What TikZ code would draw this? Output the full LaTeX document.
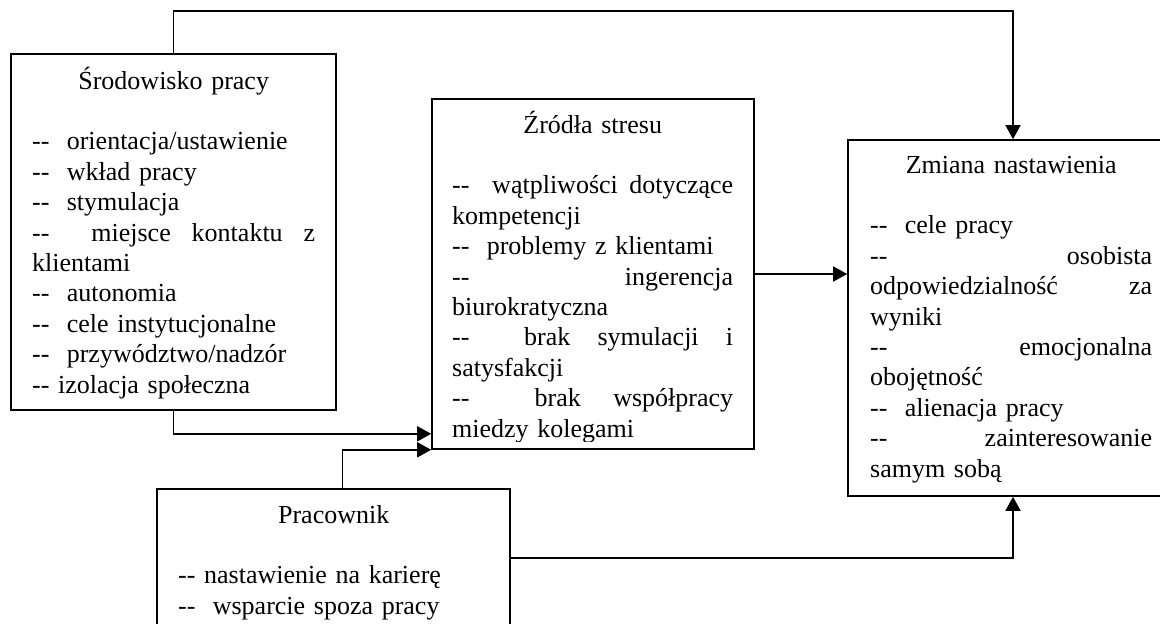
\documentclass[tikz,border=0pt]{standalone}
\usepackage{fontspec}
\setmainfont{Liberation Serif}
\usetikzlibrary{arrows.meta,calc}

% a line stretched to the full text width (justified line)
\newcommand{\jl}[1]{{\spaceskip=0.25em plus 1em\xspaceskip=0.25em plus 1em%
  \makebox[\linewidth][s]{#1}}}
% a centred heading line
\newcommand{\hd}[1]{\makebox[\linewidth]{#1}}
% two plain hyphens, kept apart from the en-dash ligature
\newcommand{\dd}{-{}-}

\begin{document}
\begin{tikzpicture}[x=1pt,y=-1pt,
  box/.style={draw,line width=1.6pt,rectangle,inner sep=0pt},
  txt/.style={anchor=base west,inner sep=0pt,align=left,
    font=\fontsize{26pt}{30.4pt}\selectfont},
  arr/.style={line width=1.6pt,-{Triangle[length=14pt,width=15pt]}},
  line/.style={line width=1.6pt}]
\useasboundingbox (0,0) rectangle (1160,624);
\clip (0,0) rectangle (1160,624);

% boxes
\node[box,minimum width=325pt,minimum height=356pt] (A) at (173.5,232) {};
\node[box,minimum width=322pt,minimum height=350pt] (B) at (593,274) {};
\node[box,minimum width=330pt,minimum height=356pt] (Z) at (1013,318) {};
\node[box,minimum width=353pt,minimum height=138pt] (P) at (333.5,558) {};

% texts
\node[txt,text width=283pt] (At) at (32,89) {%
\hd{Środowisko pracy}\\[30.4pt]
\dd\ \ orientacja/ustawienie\\
\dd\ \ wkład pracy\\
\dd\ \ stymulacja\\
\jl{\dd\ \ miejsce kontaktu z}\\
klientami\\
\dd\ \ autonomia\\
\dd\ \ cele instytucjonalne\\
\dd\ \ przywództwo/nadzór\\
\dd\ izolacja społeczna};

\begin{scope}
\clip (432,99) rectangle (754,441);
\node[txt,text width=281pt] (Bt) at (452,133) {%
\hd{Źródła stresu}\\[30.4pt]
\jl{\dd\ \ wątpliwości dotyczące}\\
kompetencji\\
\dd\ \ problemy z klientami\\
\jl{\dd\ \ ingerencja}\\
biurokratyczna\\
\jl{\dd\ \ brak symulacji i}\\
satysfakcji\\
\jl{\dd\ \ brak współpracy}\\
miedzy kolegami};
\end{scope}

\node[txt,text width=282pt] (Zt) at (870,173) {%
\hd{Zmiana nastawienia}\\[30.4pt]
\dd\ \ cele pracy\\
\jl{\dd\ \ osobista}\\
\jl{odpowiedzialność za}\\
wyniki\\
\jl{\dd\ \ emocjonalna}\\
obojętność\\
\dd\ \ alienacja pracy\\
\jl{\dd\ \ zainteresowanie}\\
samym sobą};

\node[txt,text width=311pt] (Pt) at (178,523) {%
\hd{Pracownik}\\[30.4pt]
\dd\ nastawienie na karierę\\
\dd\ \ wsparcie spoza pracy};

% connectors
\coordinate (top) at (600,11);
\draw[arr] (A.north) |- (top) -| (Z.north);
\draw[arr] (A.south) |- ($(B.south west)+(0,-16)$);
\draw[arr] ($(P.north)+(9,0)$) |- (B.south west);
\draw[arr] (B.east) -- (B.east -| Z.west);
\draw[arr] (P.east) -| (Z.south);
\end{tikzpicture}
\end{document}
